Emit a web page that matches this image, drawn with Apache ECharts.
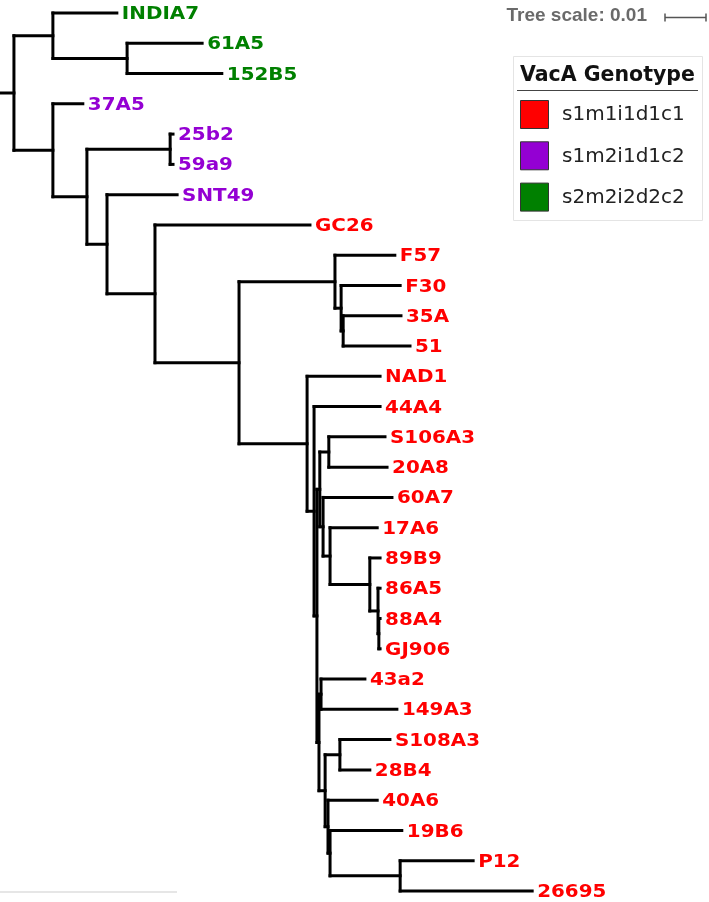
<!DOCTYPE html>
<html><head><meta charset="utf-8">
<script src="https://cdn.jsdelivr.net/npm/echarts@6/dist/echarts.min.js"></script>
<style>html,body{margin:0;padding:0;background:#fff}#c{width:709px;height:902px}</style>
</head><body><div id="c"></div>
<script>
// Leaf order (top to bottom) and their VacA genotype (index into genotypeNames)
const leafNames = ['INDIA7','61A5','152B5','37A5','25b2','59a9','SNT49','GC26','F57','F30','35A','51','NAD1','44A4','S106A3','20A8','60A7','17A6','89B9','86A5','88A4','GJ906','43a2','149A3','S108A3','28B4','40A6','19B6','P12','26695'];
const leafGenotype = [2,2,2,1,1,1,1,0,0,0,0,0,0,0,0,0,0,0,0,0,0,0,0,0,0,0,0,0,0,0];
const genotypeNames = ['s1m1i1d1c1','s1m2i1d1c2','s2m2i2d2c2'];
const genotypeColors = ['#ff0000','#9400d3','#008000'];
const legendTitle = 'VacA Genotype';
const treeScaleValue = 0.01;

// Tree: node, parent, cumulative distance from origin
const nodeNames   = ['root','A','INDIA7','B','61A5','152B5','C','37A5','D','E','25b2','59a9','F','SNT49','G','GC26','H','I','F57','I2','F30','I3','35A','51','J','NAD1','K','44A4','L','U','P','S106A3','20A8','T','60A7','Q','17A6','R','89B9','S','86A5','S2','88A4','GJ906','CC','O','43a2','149A3','AA','V','S108A3','28B4','Z','40A6','Y','19B6','X','P12','26695'];
const nodeParents = [null,'root','A','A','B','B','root','C','C','D','E','E','D','F','F','G','G','H','I','I','I2','I2','I3','I3','H','J','J','K','K','L','U','P','P','U','T','T','Q','Q','R','R','S','S','S2','S2','L','CC','O','O','CC','AA','V','V','AA','Z','Z','Y','Y','X','X'];
const nodeDepths  = [0.0034,0.0129,0.0285,0.0310,0.0493,0.0541,0.0129,0.0202,0.0212,0.0415,0.0422,0.0422,0.0261,0.0432,0.0378,0.0756,0.0583,0.0817,0.0963,0.0832,0.0976,0.0837,0.0978,0.1000,0.0749,0.0927,0.0766,0.0927,0.0773,0.0780,0.0802,0.0939,0.0944,0.0788,0.0956,0.0805,0.0920,0.0902,0.0927,0.0922,0.0927,0.0924,0.0927,0.0927,0.0778,0.0783,0.0890,0.0968,0.0793,0.0829,0.0951,0.0902,0.0800,0.0920,0.0805,0.0980,0.0976,0.1154,0.1298];

// ---- layout from the tree data ----
const depthOf = {}, children = {};
nodeNames.forEach((n,i)=>{ depthOf[n]=nodeDepths[i]; children[n]=[]; });
nodeNames.forEach((n,i)=>{ if(nodeParents[i]) children[nodeParents[i]].push(n); });
const yOf = {};
function layoutY(n){
  const li = leafNames.indexOf(n);
  if (li >= 0) { yOf[n] = li; return li; }
  const ys = children[n].map(layoutY);
  yOf[n] = (ys[0] + ys[ys.length-1]) / 2;
  return yOf[n];
}
layoutY('root');
const segments = [];
segments.push([0, yOf.root, depthOf.root, yOf.root]);
nodeNames.forEach((n,i)=>{
  const p = nodeParents[i];
  if (p) segments.push([depthOf[p], yOf[n], depthOf[n], yOf[n]]);
  const ch = children[n];
  if (ch.length) segments.push([depthOf[n], yOf[ch[0]], depthOf[n], yOf[ch[ch.length-1]]]);
});
const labelData = leafNames.map(n => [depthOf[n], yOf[n]]);

const chart = echarts.init(document.getElementById('c'), null, {renderer:'canvas'});
const graphics = [];
// legend box
graphics.push({type:'rect', left:513, top:56, shape:{width:189, height:164}, style:{fill:'#fff', stroke:'#e4e4e4', lineWidth:1}, z:10});
graphics.push({type:'text', x:520, y:76, style:{text:legendTitle, font:'bold 20.5px "DejaVu Sans"', fill:'#111', verticalAlign:'middle'}, z:11});
graphics.push({type:'line', shape:{x1:517, y1:90.5, x2:698, y2:90.5}, style:{stroke:'#444', lineWidth:1}, z:11});
genotypeNames.forEach((g,i)=>{
  graphics.push({type:'rect', shape:{x:520.5, y:100.5+41.3*i, width:28, height:28}, style:{fill:genotypeColors[i], stroke:'#333', lineWidth:1}, z:11});
  graphics.push({type:'text', x:562, y:115+41.3*i, style:{text:g, font:'20px "DejaVu Sans"', fill:'#222', verticalAlign:'middle'}, z:11});
});
// faint line at bottom left
graphics.push({type:'line', shape:{x1:0, y1:892, x2:177, y2:892}, style:{stroke:'#e6e6e6', lineWidth:2}, z:1});

chart.setOption({
  animation:false,
  backgroundColor:'#fff',
  grid:{left:0, top:13, width:697, height:878},
  xAxis:{type:'value', min:0, max:0.17, show:false},
  yAxis:{type:'value', min:0, max:leafNames.length-1, inverse:true, show:false},
  series:[
    {type:'custom', name:'branches', clip:false, data:segments, encode:{x:[0,2], y:[1,3]},
     renderItem:(params, api)=>{
       const a = api.coord([api.value(0), api.value(1)]);
       const b = api.coord([api.value(2), api.value(3)]);
       return {type:'line', shape:{x1:a[0], y1:a[1], x2:b[0], y2:b[1]}, style:{stroke:'#000', lineWidth:3, lineCap:'square'}};
     }},
    {type:'custom', name:'tips', clip:false, data:labelData, encode:{x:0, y:1},
     renderItem:(params, api)=>{
       const p = api.coord([api.value(0), api.value(1)]);
       const i = params.dataIndex;
       return {type:'text', x:p[0]+5, y:p[1]+1.5, scaleX:1.17, scaleY:1.03,
               style:{text:leafNames[i], fill:genotypeColors[leafGenotype[i]], font:'bold 17px "DejaVu Sans"', verticalAlign:'middle', align:'left'}};
     }}
  ],
  graphic: graphics
});

// tree scale bar from the axis scale
const p0 = chart.convertToPixel({gridIndex:0}, [0, 0]);
const p1 = chart.convertToPixel({gridIndex:0}, [treeScaleValue, 0]);
const barLen = p1[0] - p0[0];
const xr = 706, xl = xr - barLen, yb = 17.5;
chart.setOption({graphic: graphics.concat([
  {type:'text', x:647, y:16, style:{text:'Tree scale: ' + treeScaleValue, font:'bold 19px "Liberation Sans"', fill:'#6a6a6a', align:'right', verticalAlign:'middle'}, z:11},
  {type:'line', shape:{x1:xl, y1:yb, x2:xr, y2:yb}, style:{stroke:'#555', lineWidth:1.5}, z:11},
  {type:'line', shape:{x1:xl, y1:yb-4, x2:xl, y2:yb+4}, style:{stroke:'#555', lineWidth:1.5}, z:11},
  {type:'line', shape:{x1:xr, y1:yb-4, x2:xr, y2:yb+4}, style:{stroke:'#555', lineWidth:1.5}, z:11}
])});
</script></body></html>
